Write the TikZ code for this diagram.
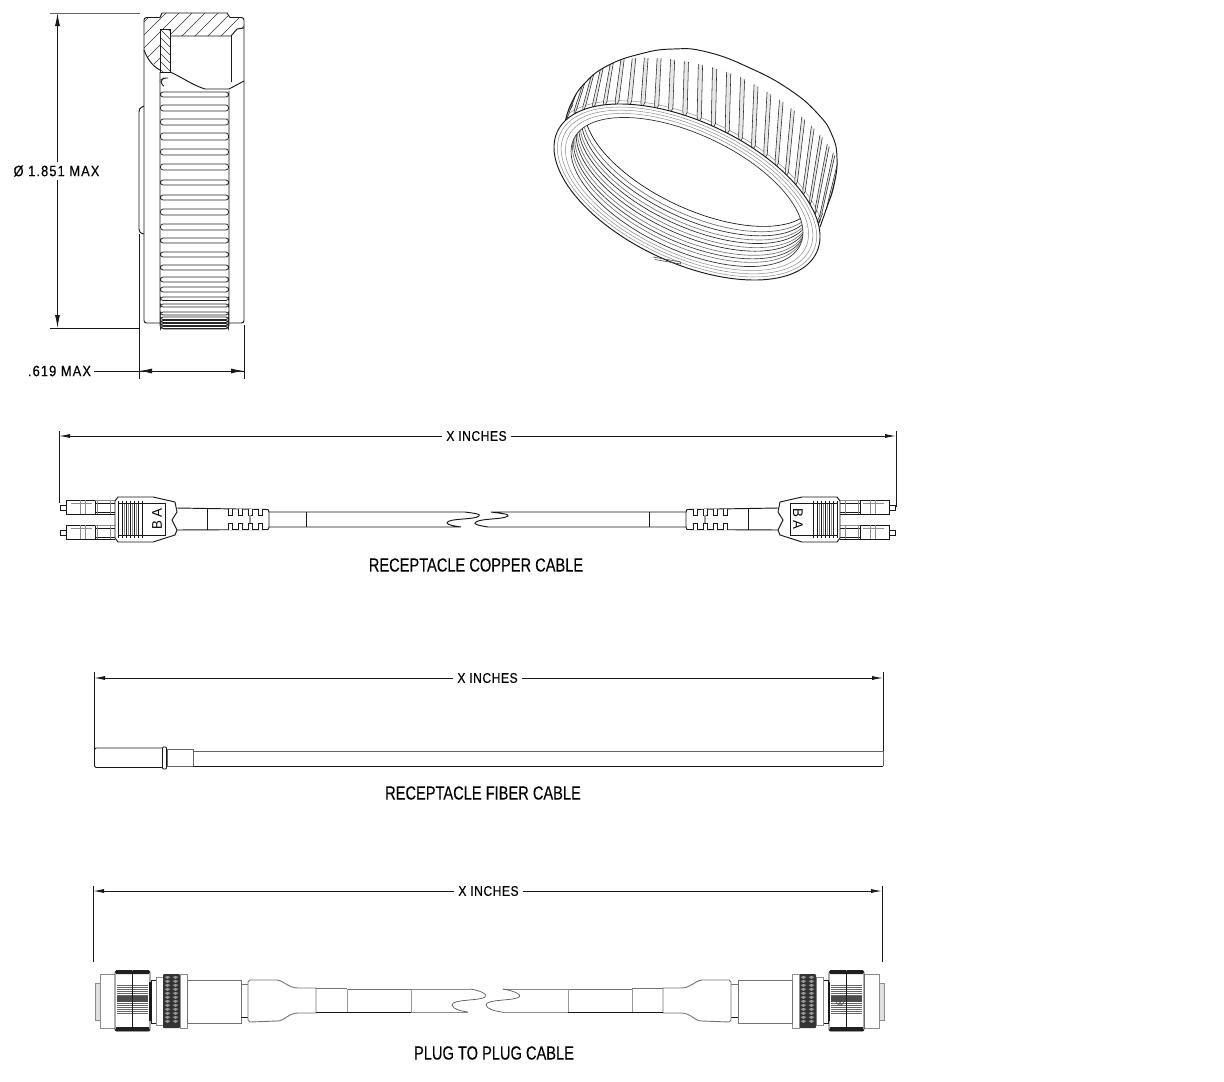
\documentclass[tikz,border=0pt]{standalone}
\usepackage{fontspec}
\usetikzlibrary{arrows.meta}
\setmainfont{Liberation Sans}
\newfontfamily\capfont[FakeStretch=.77,FakeBold=.15]{Liberation Sans}
\newfontfamily\dimfont[FakeStretch=.86,LetterSpace=4,FakeBold=.25]{Liberation Sans}
\newfontfamily\dimwide[FakeStretch=.86,LetterSpace=7,FakeBold=.25]{Liberation Sans}
\newfontfamily\letfont[FakeStretch=.95]{Liberation Sans}
\definecolor{gl}{gray}{.55}
\tikzset{
 dimtext/.style={font=\dimfont\fontsize{14}{14}\selectfont,inner sep=4pt,anchor=center,text=black},
 dimbig/.style={font=\dimwide\fontsize{15}{16}\selectfont,inner sep=3pt,anchor=center,text=black},
 captext/.style={font=\capfont\fontsize{19}{19}\selectfont,inner sep=0pt,text=black},
 lettext/.style={font=\letfont\fontsize{14}{14}\selectfont,inner sep=0pt,text=black},
 ext/.style={line width=.85pt,black!90},
 tipped/.style={line width=.85pt,black!90,-{Latex[length=13pt,width=5pt]}},
 tippedsm/.style={line width=.85pt,black!90,-{Latex[length=11pt,width=4pt]}},
 part/.style={line width=.95pt,black!90},
 thin/.style={line width=.6pt,gl},
 rimline/.style={line width=.5pt,gl},
 ribline/.style={line width=.75pt,black!85,rounded corners=2.6pt,fill=white}
}
% ---- LC duplex connector, drawn in the coordinates of the left end
\newcommand{\lcconn}{%
 \foreach \yy in {0,25}{%
  \draw[part] (66,505+\yy) -- (60,505+\yy) -- (60,510+\yy) -- (66,510+\yy);
  \draw[part,fill=white] (66,500+\yy) rectangle (95,514+\yy);
  \draw[thin] (80,500+\yy) -- (80,514+\yy) (85,500+\yy) -- (85,514+\yy) (71,503+\yy) -- (92,503+\yy);
  \draw[part] (95,503+\yy) -- (115,503+\yy) (95,512+\yy) -- (115,512+\yy);
  \draw[thin] (95,500+\yy) -- (115,500+\yy) (97,500+\yy) -- (97,514+\yy) (110,500+\yy) -- (110,514+\yy);
  \draw[part] (95,514+\yy) -- (115,514+\yy);
 }
 \draw[part,fill=white] (115,501) -- (118,497) -- (153,497) -- (175,502) -- (177,512) -- (172,520) -- (177,530) -- (175,535) -- (153,542) -- (118,542) -- (115,538) -- cycle;
 \foreach \xx in {118,122,126,130,134,138,142}{\draw[part] (\xx,501) -- (\xx,538);}
 \draw[thin,line width=.9pt] (124,503) -- (124,536) (128,503) -- (128,536) (132,503) -- (132,536) (136,503) -- (136,536);
 \draw[part] (118,503) -- (165,503) -- (165,535) -- (118,535);
 % cable and strain relief
 \draw[part] (177,508) -- (268,509.5) -- (269,512) -- (269,527) -- (268,529.5) -- (177,530);
 \draw[part] (207,508) -- (207,530);
 \foreach \xx in {228,238,248,258}{
   \draw[part,fill=white] (\xx,508.5) -- (\xx,515) -- (\xx+4,515) -- (\xx+4,508.5);
   \draw[part,fill=white] (\xx,529.5) -- (\xx,523) -- (\xx+4,523) -- (\xx+4,529.5);
 }
 \fill[black!40] (249,515) rectangle (251,523);
 \draw[part] (306,512) -- (306,527);
}
% ---- circular plug, drawn in the coordinates of the left end
\newcommand{\plugconn}{%
 \draw[thin,line width=1pt,fill=black!12] (95,983) rectangle (100,1020);
 \draw[thin,line width=.9pt,fill=white] (100,974) rectangle (115,1028);
 \draw[part,fill=white,rounded corners=2pt] (115,971) rectangle (150,1031);
 \fill[black!88] (116,970) rectangle (132,974) (133,970) rectangle (149,974) (116,1027) rectangle (132,1031) (133,1027) rectangle (149,1031);
 \foreach \xx in {117,133}{
  \foreach \yy in {985,987,...,1014}{\draw[line width=.8pt,black!60] (\xx,\yy) -- (\xx+15,\yy);}
  \fill[black!70] (\xx,996) rectangle (\xx+15,1002);
 }
 \draw[part] (132.5,971) -- (132.5,1031);
 \draw[part,line width=1.2pt] (150,982) -- (150,1021);
 \draw[part,fill=white] (151,980) rectangle (156,1023);
 \draw[thin,line width=.9pt,fill=white] (156,977) rectangle (163,1025);
 \fill[black!80,rounded corners=1pt] (163,974) rectangle (180,1028);
 \foreach \xx in {167.5,175.5}{
  \foreach \yy in {978,982,...,1025}{\fill[black!40] (\xx-2.8,\yy-1) -- (\xx,\yy-2) -- (\xx+2.8,\yy-1) -- (\xx,\yy+1) -- cycle;}
 }
 \draw[thin,line width=.9pt,fill=white] (180,974) rectangle (187,1028);
 \draw[part,line width=.9pt,black!55,fill=white] (187,980) rectangle (241,1023);
 \draw[part,black!55] (241,984) -- (248,984);
 \draw[part] (241,1017) -- (248,1017);
 \draw[part,black!55,fill=white,line width=.9pt] (250,980) -- (277,980) .. controls (285,981) and (288,988) .. (298,988) -- (316,988) -- (316,1013) -- (298,1013) .. controls (288,1013) and (285,1021) .. (277,1021) -- (250,1022) -- (248,1020) -- (248,982) -- cycle;
 \draw[part,black!55] (316,988) -- (347,988);
 \draw[part] (316,1012) -- (347,1012);
 \draw[part,black!55] (347,989) -- (411,989);
 \draw[part] (347,1012) -- (411,1012);
 \draw[part,black!40,line width=1pt] (347,989) -- (347,1012) (411,989) -- (411,1012);
}
% ---- outline of the ring seen in perspective
\newcommand{\ringoutline}{plot[smooth,tension=.8] coordinates {(557,150) (564,125) (572,102) (585,83) (607,66) (640,54) (673,49) (707,52) (750,68) (790,90) (818,114) (832,135) (837,158) (834,185) (827,207) (820,227)}}
\begin{document}
\begin{tikzpicture}[x=1pt,y=-1pt]
\useasboundingbox (0,0) rectangle (1224,1082);
\fill[white] (0,0) rectangle (1224,1082);

% ===================== side view of the ring =====================
\coordinate (dt) at (57.5,13);
\coordinate (db) at (57.5,328);
\node[dimbig] (dd) at (56.5,171) {Ø 1.851 MAX};
\draw[ext,black!60] (50,13) -- (140,13);
\draw[ext] (50,328) -- (139,328);
\draw[tipped] (dd.north -| dt) -- (dt);
\draw[tipped] (dd.south -| db) -- (db);
% body
\draw[part,rounded corners=2.5pt] (160,323) -- (144,323) -- (144,17.5) -- (160,17.5);
\draw[part,rounded corners=2.5pt] (229,323) -- (244,323) -- (244,17.5) -- (230,17.5);
\draw[part] (144,106) -- (142,107) .. controls (140,108) and (139,109) .. (139,112) -- (139,229) .. controls (139,232) and (140,233) .. (144,234);
\draw[part] (160,17.5) -- (162,13) -- (227,13) -- (230,17.5);
% hatched section
\begin{scope}
\clip (144,18) -- (160,17.5) -- (162,13) -- (227,13) -- (230,17.5) -- (244,17.5) -- (244,28) -- (237,29) -- (231,36) -- (170,36) -- (170,29) -- (160,29) -- (160,70) -- (150,60) -- (144,50) -- cycle;
\foreach \k in {-52,-39,...,130}{\draw[line width=.65pt,black!80] (130+\k,75) -- (200+\k,5);}
\end{scope}
\begin{scope}
\clip (160,29) rectangle (170,72);
\foreach \k in {0,8,...,70}{\draw[line width=.65pt,black!80] (155,\k) -- (175,\k+20);}
\end{scope}
\draw[part] (244,28) -- (237,29) -- (231,36) -- (170,36);
\draw[part] (160,29) rectangle (170,72);
\draw[part] (144,50) .. controls (147,58) and (152,66) .. (160,70);
\draw[part] (170,72) .. controls (180,76) and (192,85) .. (205,89) -- (229,89) -- (244,81);
\draw[part] (231,36) -- (231,82);
% knurl
\draw[part] (160,72) -- (160,323) .. controls (160,327) and (161,329) .. (164,329) -- (225,329) .. controls (228,329) and (229,327) .. (229,323) -- (229,91);
\draw[part,rounded corners=2pt] (164,86) -- (161,84) -- (161,80) -- (164,78) -- (168,78);
\foreach \a/\b in {92/97,105/111,119/125,133/140,149/155,164/170,180/185,195/200,209/215,224/230,238/243,252/257,265/270,277/282,287/292,297/300.5,304/307,312/315,317/319.5,320.5/322.5,323.5/325.5,326.5/328.5}{
 \draw[ribline] (160.5,\a) rectangle (228.5,\b);
}

\coordinate (wl) at (139,371);
\coordinate (wr) at (244,371);
\node[dimbig] (wt) at (59.5,371) {.619 MAX};
\draw[ext] (139,234) -- (139,379);
\draw[ext] (244,325) -- (244,379);
\draw[ext] (wt) -- (wl);
\draw[tipped] (wr) -- (wl);
\draw[tipped] (wl) -- (wr);

% ===================== isometric ring =====================
\begin{scope}
\clip \ringoutline -- (687,192) -- cycle;
\draw[line width=.5pt,black!45,shift={(687,192)},rotate=-25] (0,0) ellipse (146.5 and 74);
\foreach \kt in {-196,-190,...,30}{
 \pgfmathsetmacro{\kax}{708+146*cos(\kt)*cos(25)-66*sin(\kt)*sin(25)}
 \pgfmathsetmacro{\kay}{135+146*cos(\kt)*sin(25)+66*sin(\kt)*cos(25)+13*max(0,-cos(\kt))}
 \pgfmathsetmacro{\kbx}{687+146.5*cos(\kt+7)*cos(25)-74*sin(\kt+7)*sin(25)}
 \pgfmathsetmacro{\kby}{192+146.5*cos(\kt+7)*sin(25)+74*sin(\kt+7)*cos(25)}
 \pgfmathsetmacro{\kcx}{708+146*cos(\kt+1.8)*cos(25)-66*sin(\kt+1.8)*sin(25)}
 \pgfmathsetmacro{\kcy}{135+146*cos(\kt+1.8)*sin(25)+66*sin(\kt+1.8)*cos(25)+13*max(0,-cos(\kt+1.8))}
 \pgfmathsetmacro{\kdx}{687+146.5*cos(\kt+8.8)*cos(25)-74*sin(\kt+8.8)*sin(25)}
 \pgfmathsetmacro{\kdy}{192+146.5*cos(\kt+8.8)*sin(25)+74*sin(\kt+8.8)*cos(25)}
 \pgfmathsetmacro{\kex}{0.5*(\kbx+\kdx)-1.5}
 \pgfmathsetmacro{\key}{0.5*(\kby+\kdy)+7}
 \draw[line width=.55pt,black!85,fill=black!9] (\kax,\kay) -- (\kbx,\kby) .. controls (\kex,\key) .. (\kdx,\kdy) -- (\kcx,\kcy);
}
\end{scope}
\draw[part] \ringoutline;
% front rim
\draw[part,fill=white,shift={(687,192)},rotate=-25] (0,0) ellipse (143 and 70.6);
\draw[rimline,shift={(687,192)},rotate=-25] (0,0) ellipse (139.5 and 67.5);
\draw[rimline,shift={(687,192)},rotate=-25] (0,0) ellipse (135.5 and 64.5);
\draw[rimline,shift={(687,192)},rotate=-25] (0,0) ellipse (131 and 61.5);
\draw[line width=.7pt,black!80,shift={(687,192)},rotate=-25] (0,0) ellipse (125 and 58);
% threads seen through the opening
\begin{scope}
\clip[shift={(687,192)},rotate=-25] (0,0) ellipse (125 and 58);
\foreach \s/\g in {.07/55,.13/80,.19/55,.26/85,.32/55,.39/85,.45/55,.52/85,.59/60,.68/95}{
 \draw[line width=.65pt,black!\g,shift={(687+20*\s,192-59*\s)},rotate=-25] (0,0) ellipse (125 and 58);
}
\end{scope}
\draw[line width=.55pt,black!75] (653,257) -- (681,262) -- (680.5,264) -- (655,259.5);

% ===================== receptacle copper cable =====================
\coordinate (c1l) at (59,436);
\coordinate (c1r) at (896,436);
\node[dimtext] (c1t) at (476.5,436) {X INCHES};
\draw[ext] (59,431) -- (59,503);
\draw[ext] (896,431) -- (896,507);
\draw[tippedsm] (c1t) -- (c1l);
\draw[tippedsm] (c1t) -- (c1r);
\lcconn
\begin{scope}[xshift=955pt,xscale=-1]\lcconn\end{scope}
\node[lettext,rotate=90] (lca) at (157,513) {A};
\node[lettext,rotate=90] (lcb) at (157,525) {B};
\node[lettext,rotate=-90] (rcb) at (798,513) {B};
\node[lettext,rotate=-90] (rca) at (798,525) {A};
\draw[part] (269,512) -- (465,512) .. controls (472,513) and (482,514) .. (479,516) .. controls (475,520) and (447,518) .. (447,523) .. controls (448,525) and (454,526) .. (461,527) -- (269,527);
\draw[part] (686,512) -- (491,512) .. controls (498,513) and (510,514) .. (508,516) .. controls (503,520) and (475,518) .. (475,523.5) .. controls (476,525) and (482,526) .. (488,527) -- (686,527);
\node[captext] (c1c) at (476,565) {RECEPTACLE COPPER CABLE};

% ===================== receptacle fiber cable =====================
\coordinate (c2l) at (94,678);
\coordinate (c2r) at (883,678);
\node[dimtext] (c2t) at (487.5,678) {X INCHES};
\draw[ext] (94,672) -- (94,750);
\draw[ext] (883,672) -- (883,752);
\draw[tippedsm] (c2t) -- (c2l);
\draw[tippedsm] (c2t) -- (c2r);
\draw[part,rounded corners=1.5pt,fill=white] (162,748) -- (94.5,748) -- (94.5,767.5) -- (162,767.5);
\draw[part,black!60,fill=white] (193,749.5) rectangle (167,766.5);
\draw[part,rounded corners=1pt,fill=white] (162.5,747) rectangle (166.5,769);
\draw[part,black!60] (193,751) -- (883,751);
\draw[part] (193,766) -- (883,766);
\draw[part,black!60] (883,751) -- (883,766);
\node[captext] (c2c) at (483,793) {RECEPTACLE FIBER CABLE};

% ===================== plug to plug cable =====================
\coordinate (c3l) at (93,891);
\coordinate (c3r) at (882,891);
\node[dimtext] (c3t) at (488.5,891) {X INCHES};
\draw[ext] (93,886) -- (93,962);
\draw[ext] (882,886) -- (882,962);
\draw[tippedsm] (c3t) -- (c3l);
\draw[tippedsm] (c3t) -- (c3r);
\plugconn
\begin{scope}[xshift=979pt,xscale=-1]\plugconn\end{scope}
\draw[line width=.6pt,black!70] (840,1001) circle (4) (840,1001) circle (1.8);
\draw[part,black!45] (411,989) -- (470,989);
\draw[line width=.7pt,black!65] (470,989) .. controls (478,990) and (489,994) .. (485,997) .. controls (480,1001) and (452,999) .. (452,1005) .. controls (453,1009) and (460,1011) .. (468,1012);
\draw[part,black!45] (411,1012) -- (468,1012);
\draw[part,black!45] (503,989) -- (568,989);
\draw[line width=.7pt,black!65] (503,989) .. controls (510,990) and (523,994) .. (519,997) .. controls (514,1001) and (486,999) .. (486,1005) .. controls (487,1009) and (494,1011) .. (502,1012);
\draw[part,black!45] (502,1012) -- (568,1012);
\node[captext] (c3c) at (494,1053) {PLUG TO PLUG CABLE};
\end{tikzpicture}
\end{document}
